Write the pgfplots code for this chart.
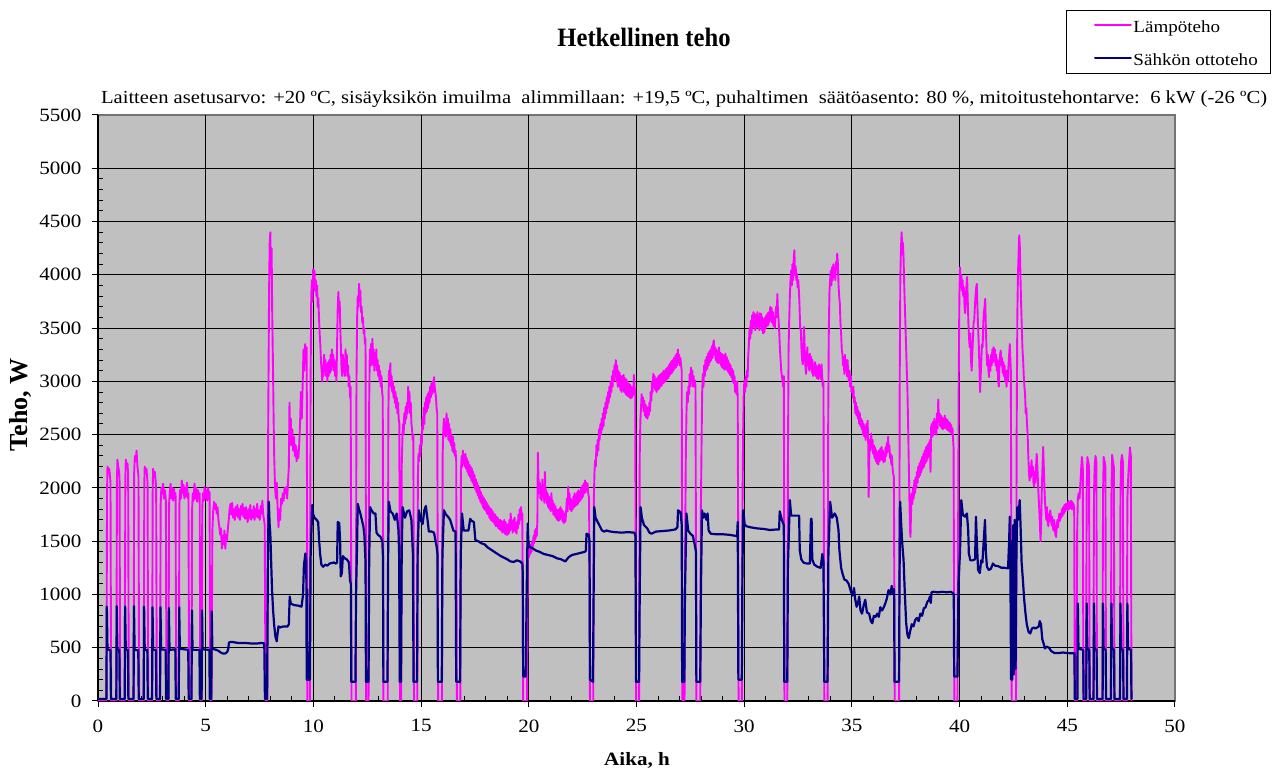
\documentclass[border=0pt]{standalone}
\usepackage{fontspec}
\setmainfont{Liberation Serif}[FakeStretch=1.12]
\newfontfamily\titlefont{Liberation Serif}[FakeStretch=0.93]
\newfontfamily\plainfont{Liberation Serif}
\usepackage{pgfplots}
\pgfplotsset{compat=1.18}
\definecolor{plotgray}{RGB}{192,192,192}
\definecolor{lampo}{RGB}{255,0,255}
\definecolor{sahko}{RGB}{0,0,128}

\begin{document}
\begin{tikzpicture}
\path[use as bounding box] (0bp,0bp) rectangle (1272bp,774bp);
\begin{axis}[
  at={(98bp,73bp)}, anchor=south west,
  width=1077bp, height=586bp, scale only axis,
  xmin=0, xmax=50, ymin=0, ymax=5500,
  xtick={0,5,...,45}, ytick={0,500,...,5000},
  extra x ticks={50}, extra y ticks={5500},
  extra tick style={grid=none},
  minor x tick num=4, minor y tick num=4,
  axis x line*=bottom, axis y line*=left,
  axis line style={-, black, line width=1.2bp},
  xtick pos=bottom, ytick pos=left,
  tick align=outside,
  major tick length=6bp, minor tick length=-5bp,
  tick style={black, line width=1bp},
  grid=major,
  major grid style={black, line width=1bp},
  axis background/.style={fill=plotgray, draw=black!55, line width=1.2bp},
  tick label style={font=\fontsize{18.8bp}{20bp}\selectfont},
  xticklabel style={yshift=-9bp},
  yticklabel style={xshift=-7bp},
  /pgf/number format/1000 sep={},
  /pgf/number format/assume math mode=true,
  legend style={at={(1.0882,1.1792)}, anchor=north east, draw=black,
    fill=white, inner xsep=11bp, inner ysep=7bp,
    font=\fontsize{17bp}{19bp}\selectfont, row sep=17bp,
    nodes={inner xsep=1bp, inner ysep=0bp, text height=15bp, text depth=1bp}},
  legend cell align=left,
  legend image code/.code={%
    \draw[white, line width=0.1bp] (-18bp,0bp) -- (-0.5bp,0bp);
    \fill[#1] (0bp,-0.1bp) rectangle (36bp,0.1bp);},
  every axis plot/.append style={line join=round},
]
% Lämpöteho (heat output), W
\addplot[lampo, line width=1.9bp] coordinates {
(0,0) (0.39,0) (0.42,1950) (0.44,2200) (0.48,2150) (0.52,2180) (0.56,2100) (0.58,2050) (0.61,0)
(0.85,0) (0.88,2050) (0.9,2265) (0.94,2200) (0.98,2150) (1.00,2100) (1.03,0)
(1.24,0) (1.27,2100) (1.29,2265) (1.33,2200) (1.37,2230) (1.40,2120) (1.43,0)
(1.65,0) (1.68,2150) (1.71,2300) (1.75,2250) (1.79,2350) (1.83,2200) (1.86,2150) (1.88,2100) (1.91,0)
(2.12,0) (2.15,2050) (2.17,2200) (2.21,2150) (2.25,2180) (2.28,2100) (2.30,2050) (2.33,0)
(2.51,0) (2.54,2000) (2.56,2180) (2.60,2100) (2.64,2150) (2.67,2080) (2.70,2000) (2.73,0)
(2.88,0) (2.91,1850) (2.94,2000) (2.98,1950) (3.02,2040) (3.06,1900) (3.10,1980) (3.15,1880) (3.18,0)
(3.27,0) (3.30,1850) (3.33,1950) (3.37,2040) (3.41,1900) (3.45,2000) (3.49,1880) (3.53,1990) (3.57,1900) (3.60,1950) (3.63,0)
(3.75,0) (3.78,1850) (3.81,1980) (3.85,1900) (3.89,2070) (3.93,1950) (3.97,2030) (4.01,1900) (4.05,2000) (4.09,1920) (4.13,2050) (4.17,1900) (4.20,1950) (4.23,0)
(4.34,0) (4.37,1800) (4.40,1950) (4.44,1880) (4.48,2040) (4.52,1900) (4.56,2000) (4.60,1870) (4.64,1980) (4.68,1900) (4.72,1950) (4.75,0)
(4.81,0) (4.84,1800) (4.87,1950) (4.91,1880) (4.95,2010) (4.99,1900) (5.03,1980) (5.07,1880) (5.11,2000) (5.15,1920) (5.18,1960) (5.21,0)
(5.27,0) (5.31,1600) (5.35,1790) (5.39,1870) (5.43,1800) (5.47,1850) (5.51,1760) (5.55,1820) (5.59,1700) (5.63,1640) (5.67,1560) (5.71,1620) (5.75,1430) (5.79,1550) (5.83,1470) (5.87,1600) (5.91,1430) (5.95,1560) (5.99,1510) (6.03,1620) (6.07,1700) (6.11,1800) (6.15,1850) (6.19,1750) (6.23,1860) (6.27,1720) (6.31,1800) (6.35,1700) (6.39,1820) (6.43,1740) (6.47,1840) (6.51,1720) (6.55,1800) (6.59,1700) (6.63,1830) (6.67,1750) (6.71,1850) (6.75,1730) (6.79,1810) (6.83,1710) (6.87,1820) (6.91,1740) (6.95,1680) (6.99,1800) (7.03,1720) (7.07,1840) (7.11,1700) (7.15,1790) (7.19,1720) (7.23,1830) (7.27,1700) (7.31,1800) (7.35,1730) (7.39,1850) (7.43,1720) (7.47,1790) (7.51,1700) (7.55,1830) (7.59,1760) (7.63,1880) (7.67,1750) (7.71,1700) (7.74,1650) (7.78,0) (7.86,0)
(7.90,2500) (7.94,3800) (7.97,4300) (8.00,4400) (8.03,4000) (8.06,4250) (8.09,3600) (8.12,3200) (8.15,2700) (8.18,2300) (8.22,2000) (8.26,1900) (8.30,2050) (8.34,1800) (8.38,1630) (8.42,1800) (8.46,1700) (8.50,1900) (8.54,1850) (8.58,1950) (8.62,1880) (8.66,2000) (8.70,1950) (8.74,2010) (8.78,1900) (8.82,2050) (8.86,2200) (8.89,2800) (8.92,2500) (8.95,2650) (8.98,2400) (9.02,2550) (9.06,2350) (9.10,2480) (9.14,2300) (9.18,2400) (9.22,2250) (9.26,2350) (9.30,2280) (9.34,2400) (9.38,2600) (9.42,2900) (9.46,2650) (9.50,2950) (9.54,3300) (9.58,3100) (9.62,3350) (9.66,3200) (9.69,3320) (9.72,0) (9.84,0)
(9.87,3000) (9.90,3800) (9.93,3950) (9.96,3750) (9.99,4050) (10.02,3900) (10.05,4040) (10.08,3850) (10.11,3950) (10.14,3800) (10.17,3900) (10.20,3700) (10.23,3780) (10.26,3600) (10.29,3450) (10.32,3350) (10.35,3200) (10.38,3100) (10.41,3000) (10.44,3150) (10.47,3050) (10.50,3250) (10.53,3100) (10.56,3200) (10.59,3050) (10.62,3150) (10.65,3000) (10.68,3180) (10.71,3050) (10.74,3200) (10.77,3080) (10.80,3250) (10.83,3100) (10.86,3300) (10.89,3150) (10.92,3250) (10.95,3100) (10.98,3200) (11.01,3050) (11.04,3150) (11.07,3000) (11.10,3350) (11.13,3700) (11.16,3840) (11.19,3650) (11.22,3750) (11.25,3500) (11.28,3300) (11.31,3100) (11.34,3050) (11.37,3250) (11.40,3100) (11.43,3200) (11.46,3050) (11.49,3300) (11.52,3100) (11.55,3250) (11.58,3050) (11.61,3150) (11.64,2950) (11.67,3050) (11.70,2850) (11.73,2950) (11.77,0) (11.97,0)
(12.00,3000) (12.03,3600) (12.06,3800) (12.09,3700) (12.12,3915) (12.15,3800) (12.18,3850) (12.21,3650) (12.24,3700) (12.27,3550) (12.30,3600) (12.33,3450) (12.36,3500) (12.39,3350) (12.42,3400) (12.45,0) (12.56,0)
(12.59,2800) (12.62,3300) (12.65,3200) (12.68,3350) (12.71,3150) (12.74,3400) (12.77,3200) (12.80,3300) (12.83,3100) (12.86,3250) (12.89,3150) (12.92,3300) (12.95,3100) (12.98,3200) (13.01,3050) (13.04,3150) (13.07,3000) (13.10,3100) (13.13,2950) (13.16,3050) (13.19,2900) (13.22,2850) (13.25,0) (13.45,0)
(13.48,2700) (13.51,3100) (13.54,3000) (13.57,3170) (13.60,2950) (13.63,3050) (13.66,2900) (13.69,3000) (13.72,2850) (13.75,2950) (13.78,2800) (13.81,2900) (13.84,2750) (13.87,2850) (13.90,2700) (13.93,2800) (13.96,2650) (13.99,2600) (14.02,0) (14.07,0)
(14.10,2200) (14.13,2450) (14.16,2600) (14.19,2500) (14.22,2700) (14.25,2600) (14.28,2760) (14.31,2650) (14.34,2800) (14.37,2700) (14.40,2950) (14.43,2800) (14.46,2900) (14.49,2700) (14.52,2800) (14.55,2600) (14.58,2550) (14.61,2450) (14.64,2500) (14.67,0) (14.82,0)
(14.85,2100) (14.88,2320) (14.91,2250) (14.94,2400) (14.97,2300) (15.00,2500) (15.03,2400) (15.06,2650) (15.09,2550) (15.12,2750) (15.15,2600) (15.18,2800) (15.21,2700) (15.24,2850) (15.27,2720) (15.30,2880) (15.33,2750) (15.36,2900) (15.39,2800) (15.42,2950) (15.45,2850) (15.48,2980) (15.51,2880) (15.54,3000) (15.57,2900) (15.60,3040) (15.63,2950) (15.66,2900) (15.69,2850) (15.72,2750) (15.75,2700) (15.79,0) (15.97,0)
(16.00,2300) (16.03,2550) (16.06,2650) (16.09,2500) (16.12,2600) (16.15,2480) (16.18,2700) (16.21,2520) (16.24,2650) (16.27,2450) (16.30,2600) (16.33,2430) (16.36,2550) (16.39,2400) (16.42,2500) (16.45,2350) (16.48,2480) (16.51,2330) (16.54,2420) (16.57,2300) (16.60,2350) (16.63,2250) (16.66,0) (16.82,0)
(16.85,2150) (16.88,2300) (16.91,2200) (16.94,2350) (16.97,2250) (17.00,2300) (17.03,2200) (17.06,2320) (17.09,2180) (17.12,2280) (17.15,2150) (17.18,2250) (17.21,2120) (17.24,2220) (17.27,2100) (17.30,2200) (17.33,2070) (17.36,2180) (17.39,2050) (17.42,2150) (17.45,2020) (17.48,2120) (17.51,1990) (17.54,2080) (17.57,1960) (17.60,2050) (17.63,1930) (17.66,2020) (17.69,1900) (17.72,1990) (17.75,1870) (17.78,1960) (17.81,1850) (17.84,1930) (17.87,1820) (17.90,1910) (17.93,1800) (17.96,1890) (17.99,1790) (18.02,1870) (18.05,1760) (18.08,1850) (18.11,1750) (18.14,1830) (18.17,1720) (18.20,1810) (18.23,1700) (18.26,1800) (18.29,1690) (18.32,1780) (18.35,1680) (18.38,1760) (18.41,1660) (18.44,1750) (18.47,1640) (18.50,1730) (18.53,1640) (18.56,1720) (18.59,1620) (18.62,1700) (18.65,1610) (18.68,1700) (18.71,1600) (18.74,1690) (18.77,1580) (18.80,1680) (18.83,1590) (18.86,1700) (18.89,1570) (18.92,1680) (18.95,1560) (18.98,1650) (19.01,1560) (19.04,1660) (19.07,1570) (19.10,1700) (19.13,1600) (19.16,1760) (19.19,1620) (19.22,1690) (19.25,1580) (19.28,1700) (19.31,1600) (19.34,1720) (19.37,1590) (19.40,1650) (19.43,1570) (19.46,1680) (19.49,1620) (19.52,1750) (19.55,1660) (19.58,1800) (19.61,1700) (19.64,1820) (19.67,1740) (19.70,1760) (19.74,0) (19.92,0)
(19.95,1300) (19.98,1420) (20.01,1350) (20.04,1450) (20.07,1380) (20.10,1470) (20.13,1400) (20.16,1500) (20.19,1450) (20.22,1550) (20.25,1480) (20.28,1600) (20.31,1520) (20.34,1620) (20.37,1550) (20.40,1700) (20.42,2330) (20.45,2100) (20.48,1950) (20.51,2050) (20.54,1900) (20.57,2000) (20.60,1880) (20.63,2080) (20.66,1920) (20.69,2000) (20.72,1860) (20.75,2150) (20.78,1900) (20.81,1980) (20.84,1850) (20.87,1950) (20.90,1820) (20.93,1920) (20.96,1800) (20.99,1900) (21.02,1780) (21.05,1950) (21.08,1800) (21.11,1880) (21.14,1750) (21.17,1850) (21.20,1740) (21.23,1830) (21.26,1720) (21.29,1800) (21.32,1700) (21.35,1790) (21.38,1690) (21.41,1800) (21.44,1700) (21.47,1820) (21.50,1720) (21.53,1800) (21.56,1690) (21.59,1780) (21.62,1670) (21.65,1760) (21.68,1680) (21.71,1700) (21.74,1800) (21.77,1900) (21.80,1780) (21.83,2010) (21.86,1850) (21.89,1950) (21.92,1800) (21.95,1900) (21.98,1780) (22.01,1880) (22.04,1800) (22.07,1920) (22.10,1820) (22.13,1950) (22.16,1830) (22.19,1930) (22.22,1840) (22.25,1960) (22.28,1850) (22.31,1980) (22.34,1870) (22.37,1960) (22.40,1880) (22.43,2000) (22.46,1900) (22.49,2020) (22.52,1920) (22.55,2040) (22.58,1950) (22.61,2070) (22.64,1960) (22.67,2050) (22.70,1980) (22.73,2040) (22.76,1950) (22.80,1900) (22.84,0) (22.99,0)
(23.02,1900) (23.05,2150) (23.08,2260) (23.11,2200) (23.14,2400) (23.17,2300) (23.20,2450) (23.23,2350) (23.26,2550) (23.29,2450) (23.32,2600) (23.35,2500) (23.38,2650) (23.41,2550) (23.44,2700) (23.47,2580) (23.50,2750) (23.53,2650) (23.56,2800) (23.59,2700) (23.62,2850) (23.65,2750) (23.68,2900) (23.71,2800) (23.74,2950) (23.77,2850) (23.80,3000) (23.83,2900) (23.86,3050) (23.89,2950) (23.92,3100) (23.95,3000) (23.98,3150) (24.01,3050) (24.04,3200) (24.07,3000) (24.10,3150) (24.13,2950) (24.16,3100) (24.19,2950) (24.22,3080) (24.25,2920) (24.28,3050) (24.31,2900) (24.34,3050) (24.37,2920) (24.40,3060) (24.43,2900) (24.46,3030) (24.49,2880) (24.52,3020) (24.55,2870) (24.58,3000) (24.61,2860) (24.64,2980) (24.67,2850) (24.70,2970) (24.73,2840) (24.76,2950) (24.79,2850) (24.82,2930) (24.85,2870) (24.88,3060) (24.91,2950) (24.94,2900) (24.98,0) (25.12,0)
(25.15,2300) (25.18,2630) (25.21,2750) (25.24,2880) (25.27,2780) (25.30,2850) (25.33,2720) (25.36,2820) (25.39,2680) (25.42,2780) (25.45,2660) (25.48,2760) (25.51,2650) (25.54,2750) (25.57,2680) (25.60,2800) (25.63,2720) (25.66,2900) (25.69,2820) (25.72,3000) (25.75,2900) (25.78,3070) (25.81,2950) (25.84,3050) (25.87,2920) (25.90,3020) (25.93,2900) (25.96,3030) (25.99,2920) (26.02,3050) (26.05,2930) (26.08,3060) (26.11,2950) (26.14,3070) (26.17,2960) (26.20,3080) (26.23,2980) (26.26,3100) (26.29,2990) (26.32,3100) (26.35,3000) (26.38,3120) (26.41,3020) (26.44,3130) (26.47,3030) (26.50,3150) (26.53,3050) (26.56,3170) (26.59,3070) (26.62,3190) (26.65,3080) (26.68,3200) (26.71,3100) (26.74,3220) (26.77,3120) (26.80,3240) (26.83,3130) (26.86,3260) (26.89,3150) (26.92,3300) (26.95,3180) (26.98,3250) (27.01,3150) (27.04,3220) (27.07,3150) (27.10,3100) (27.13,0) (27.23,0)
(27.26,1500) (27.29,2300) (27.32,2700) (27.35,2900) (27.38,2800) (27.41,2950) (27.44,2880) (27.47,3070) (27.50,2950) (27.53,3130) (27.56,3000) (27.59,3100) (27.62,2950) (27.65,3050) (27.68,2950) (27.71,3010) (27.74,2950) (27.78,0) (27.96,0)
(27.99,1800) (28.02,2400) (28.05,2900) (28.08,3070) (28.11,2950) (28.14,3150) (28.17,3050) (28.20,3200) (28.23,3100) (28.26,3230) (28.29,3120) (28.32,3260) (28.35,3150) (28.38,3280) (28.41,3180) (28.44,3300) (28.47,3200) (28.50,3330) (28.53,3220) (28.56,3350) (28.59,3385) (28.62,3250) (28.65,3320) (28.68,3200) (28.71,3300) (28.74,3180) (28.77,3280) (28.80,3170) (28.83,3320) (28.86,3180) (28.89,3270) (28.92,3150) (28.95,3260) (28.98,3130) (29.01,3250) (29.04,3120) (29.07,3240) (29.10,3110) (29.13,3260) (29.16,3120) (29.19,3230) (29.22,3100) (29.25,3200) (29.28,3080) (29.31,3170) (29.34,3060) (29.37,3150) (29.40,3040) (29.43,3120) (29.46,3000) (29.49,3100) (29.52,2980) (29.55,3050) (29.58,2900) (29.61,2950) (29.64,2880) (29.67,3000) (29.70,2850) (29.74,0) (29.89,0)
(29.92,1800) (29.95,2500) (29.98,2900) (30.01,3010) (30.04,2900) (30.07,3050) (30.10,2950) (30.13,3100) (30.16,3040) (30.19,3250) (30.22,3350) (30.25,3500) (30.28,3400) (30.31,3570) (30.34,3450) (30.37,3620) (30.40,3500) (30.43,3650) (30.46,3520) (30.49,3635) (30.52,3480) (30.55,3620) (30.58,3500) (30.61,3650) (30.64,3520) (30.67,3600) (30.70,3480) (30.73,3640) (30.76,3520) (30.79,3635) (30.82,3480) (30.85,3600) (30.88,3450) (30.91,3580) (30.94,3460) (30.97,3600) (31.00,3500) (31.03,3620) (31.06,3520) (31.09,3640) (31.12,3530) (31.15,3650) (31.18,3560) (31.21,3700) (31.24,3580) (31.27,3690) (31.30,3550) (31.33,3650) (31.36,3520) (31.39,3600) (31.42,3500) (31.45,3620) (31.48,3700) (31.51,3600) (31.54,3820) (31.57,3650) (31.60,3570) (31.63,3450) (31.66,3300) (31.69,3200) (31.72,3100) (31.75,3050) (31.78,3010) (31.81,2950) (31.84,3050) (31.87,0) (32.00,0)
(32.03,2200) (32.06,3300) (32.09,3570) (32.12,3800) (32.15,3950) (32.18,4040) (32.21,3900) (32.24,4100) (32.27,3950) (32.30,4150) (32.33,4230) (32.36,4000) (32.39,4080) (32.42,3950) (32.45,4010) (32.48,3880) (32.51,3950) (32.54,3850) (32.57,3700) (32.60,3500) (32.63,3480) (32.66,3300) (32.69,3200) (32.72,3160) (32.75,3350) (32.78,3510) (32.81,3300) (32.84,3150) (32.87,3070) (32.90,3200) (32.93,3320) (32.96,3150) (32.99,3250) (33.02,3100) (33.05,3260) (33.08,3120) (33.11,3230) (33.14,3080) (33.17,3200) (33.20,3050) (33.23,3150) (33.26,3070) (33.29,3180) (33.32,3050) (33.35,3150) (33.38,3030) (33.41,3130) (33.44,3020) (33.47,3160) (33.50,3050) (33.53,3140) (33.56,3020) (33.59,3160) (33.62,3050) (33.65,2950) (33.68,3000) (33.72,0) (33.87,0)
(33.90,2600) (33.93,3500) (33.96,3850) (33.99,3950) (34.02,4040) (34.05,3900) (34.08,4070) (34.11,3950) (34.14,4100) (34.17,3980) (34.20,4070) (34.23,3950) (34.26,4120) (34.29,4050) (34.32,4200) (34.35,4100) (34.38,3900) (34.41,3800) (34.44,3730) (34.47,3550) (34.50,3450) (34.53,3300) (34.56,3260) (34.59,3150) (34.62,3200) (34.65,3070) (34.68,3250) (34.71,3100) (34.74,3200) (34.77,3050) (34.80,3200) (34.83,3050) (34.86,3000) (34.89,3100) (34.92,2950) (34.95,3050) (34.98,2900) (35.01,2950) (35.04,2850) (35.07,2950) (35.10,2800) (35.13,2850) (35.16,2700) (35.19,2800) (35.22,2680) (35.25,2760) (35.28,2650) (35.31,2720) (35.34,2600) (35.37,2700) (35.40,2580) (35.43,2650) (35.46,2550) (35.49,2630) (35.52,2500) (35.55,2600) (35.58,2480) (35.61,2570) (35.64,2450) (35.67,2600) (35.70,2480) (35.73,2630) (35.76,2400) (35.78,1915) (35.81,2300) (35.84,2450) (35.87,2350) (35.90,2510) (35.93,2380) (35.96,2450) (35.99,2320) (36.02,2400) (36.05,2280) (36.08,2380) (36.11,2250) (36.14,2350) (36.17,2230) (36.20,2330) (36.23,2220) (36.26,2350) (36.29,2250) (36.32,2370) (36.35,2270) (36.38,2385) (36.41,2260) (36.44,2350) (36.47,2240) (36.50,2320) (36.53,2250) (36.56,2380) (36.59,2300) (36.62,2420) (36.65,2330) (36.68,2480) (36.71,2350) (36.74,2400) (36.77,2280) (36.80,2320) (36.83,2220) (36.86,2300) (36.89,2180) (36.92,2130) (36.95,2100) (36.99,0) (37.19,0)
(37.22,3000) (37.25,4000) (37.28,4250) (37.31,4400) (37.34,4200) (37.37,4300) (37.40,4150) (37.43,3900) (37.46,3700) (37.49,3510) (37.52,3300) (37.55,3100) (37.58,2900) (37.61,2600) (37.64,2250) (37.67,1900) (37.70,1600) (37.72,1540) (37.75,1800) (37.78,1950) (37.81,1850) (37.84,2000) (37.87,1900) (37.90,2070) (37.93,1950) (37.96,2100) (37.99,2000) (38.02,2150) (38.05,2050) (38.08,2200) (38.11,2100) (38.14,2230) (38.17,2120) (38.20,2260) (38.23,2150) (38.26,2290) (38.29,2180) (38.32,2320) (38.35,2200) (38.38,2350) (38.41,2230) (38.44,2380) (38.47,2250) (38.50,2400) (38.53,2280) (38.56,2420) (38.59,2300) (38.62,2450) (38.65,2150) (38.68,2570) (38.71,2600) (38.74,2480) (38.77,2620) (38.80,2500) (38.83,2650) (38.86,2520) (38.89,2620) (38.92,2500) (38.95,2700) (38.98,2560) (39.01,2830) (39.04,2620) (39.07,2700) (39.10,2580) (39.13,2680) (39.16,2560) (39.19,2660) (39.22,2550) (39.25,2650) (39.28,2560) (39.31,2680) (39.34,2570) (39.37,2650) (39.40,2550) (39.43,2640) (39.46,2540) (39.49,2620) (39.52,2530) (39.55,2610) (39.58,2520) (39.61,2590) (39.64,2510) (39.67,2560) (39.70,2450) (39.72,2380) (39.76,0) (39.90,0)
(39.93,1500) (39.96,3000) (39.99,3800) (40.02,4070) (40.05,3900) (40.08,4000) (40.11,3850) (40.14,3950) (40.17,3800) (40.20,3880) (40.23,3700) (40.26,3640) (40.29,3780) (40.32,3900) (40.35,3980) (40.38,3750) (40.41,3550) (40.44,3400) (40.47,3320) (40.50,3450) (40.53,3200) (40.56,3100) (40.59,3250) (40.62,3400) (40.65,3550) (40.68,3570) (40.71,3700) (40.74,3800) (40.77,3880) (40.80,3915) (40.83,3700) (40.86,3500) (40.89,3350) (40.92,3150) (40.95,2900) (40.98,3050) (41.01,3200) (41.04,3350) (41.07,3320) (41.10,3550) (41.13,3650) (41.16,3700) (41.19,3775) (41.22,3500) (41.25,3300) (41.28,3150) (41.31,3250) (41.34,3100) (41.37,3040) (41.40,3200) (41.43,3100) (41.46,3250) (41.49,3150) (41.52,3300) (41.55,3180) (41.58,3320) (41.61,3200) (41.64,3300) (41.67,3150) (41.70,3250) (41.73,3100) (41.76,3200) (41.79,3000) (41.82,2950) (41.85,3150) (41.88,3250) (41.91,3290) (41.94,3150) (41.97,3220) (42.00,3080) (42.03,3180) (42.06,3050) (42.09,3150) (42.12,3000) (42.15,3100) (42.18,2950) (42.21,3100) (42.24,3000) (42.27,3150) (42.30,3250) (42.33,3350) (42.36,3200) (42.38,3100) (42.42,0) (42.62,0)
(42.65,2500) (42.68,3600) (42.71,4000) (42.74,4200) (42.77,4370) (42.80,4250) (42.83,3950) (42.86,3700) (42.89,3500) (42.92,3300) (42.95,3200) (42.98,3050) (43.01,2950) (43.04,2880) (43.07,2700) (43.10,2750) (43.13,2600) (43.16,2500) (43.19,2300) (43.22,2150) (43.25,2070) (43.28,2200) (43.31,2100) (43.34,2260) (43.37,2150) (43.40,2200) (43.43,2050) (43.46,2010) (43.49,2150) (43.52,2050) (43.55,2200) (43.58,2320) (43.61,2200) (43.64,2050) (43.67,1915) (43.70,1800) (43.73,1650) (43.76,1500) (43.79,1700) (43.82,2000) (43.85,2200) (43.88,2385) (43.91,2200) (43.94,2000) (43.97,1850) (44.00,1760) (44.03,1700) (44.06,1820) (44.09,1680) (44.12,1640) (44.15,1750) (44.18,1690) (44.21,1790) (44.24,1720) (44.27,1650) (44.30,1730) (44.33,1640) (44.36,1600) (44.39,1700) (44.42,1620) (44.45,1560) (44.48,1540) (44.51,1640) (44.54,1700) (44.57,1630) (44.60,1700) (44.63,1760) (44.66,1690) (44.69,1760) (44.72,1720) (44.75,1800) (44.78,1740) (44.81,1820) (44.84,1760) (44.87,1840) (44.90,1780) (44.93,1850) (44.96,1800) (44.99,1850) (45.02,1790) (45.05,1880) (45.08,1800) (45.11,1860) (45.14,1820) (45.17,1880) (45.20,1800) (45.23,1870) (45.26,1800) (45.29,1850) (45.32,1800) (45.35,0)
(45.43,0) (45.46,1600) (45.49,1900) (45.53,1950) (45.57,1900) (45.61,2050) (45.65,2200) (45.68,2290) (45.72,2200) (45.75,0)
(45.87,0) (45.90,1950) (45.93,2290) (45.97,2250) (46.01,2200) (46.04,0)
(46.21,0) (46.24,1950) (46.27,2200) (46.31,2300) (46.35,2250) (46.38,0)
(46.63,0) (46.66,1950) (46.69,2290) (46.73,2250) (46.77,2200) (46.80,0)
(47.02,0) (47.05,1950) (47.08,2310) (47.12,2250) (47.16,2200) (47.19,0)
(47.44,0) (47.47,1950) (47.50,2250) (47.54,2310) (47.58,2250) (47.61,0)
(47.76,0) (47.79,1900) (47.83,2100) (47.87,2250) (47.91,2380) (47.95,2300) (47.98,0)
};
\addlegendentry{Lämpöteho}
% Sähkön ottoteho (electric input power), W
\addplot[sahko, line width=2.2bp] coordinates {
(0,20) (0.39,20) (0.41,885) (0.44,490) (0.50,480) (0.58,480) (0.60,20)
(0.85,20) (0.87,890) (0.90,485) (0.99,480) (1.01,20)
(1.24,20) (1.26,885) (1.29,480) (1.39,480) (1.41,20)
(1.65,20) (1.67,890) (1.70,480) (1.87,475) (1.89,20)
(2.12,20) (2.14,885) (2.17,480) (2.29,480) (2.31,20)
(2.51,20) (2.53,880) (2.56,480) (2.69,480) (2.71,20)
(2.88,20) (2.90,880) (2.93,485) (3.14,480) (3.16,20)
(3.27,20) (3.29,875) (3.32,480) (3.59,485) (3.61,20)
(3.75,20) (3.77,880) (3.80,490) (4.19,480) (4.21,20)
(4.34,20) (4.36,850) (4.39,480) (4.71,480) (4.73,20)
(4.81,20) (4.83,850) (4.86,485) (5.17,480) (5.19,20)
(5.26,20) (5.28,840) (5.31,490) (5.4,485) (5.5,480) (5.6,470) (5.7,455) (5.8,445) (5.9,445) (6.0,460) (6.05,490) (6.08,550) (6.2,555) (6.5,545) (6.8,545) (7.1,540) (7.4,540) (7.6,545) (7.72,540) (7.75,20) (7.85,20)
(7.89,1400) (7.93,1870) (7.97,1650) (8.00,1570) (8.04,1300) (8.08,1040) (8.13,850) (8.18,710) (8.24,600) (8.30,560) (8.33,620) (8.38,700) (8.45,690) (8.6,700) (8.8,700) (8.86,720) (8.90,980) (8.95,915) (9.1,900) (9.3,895) (9.45,885) (9.52,1000) (9.56,1275) (9.63,1385) (9.67,1300) (9.69,200) (9.71,1050) (9.73,200) (9.84,200)
(9.87,1350) (9.91,1600) (9.95,1840) (9.99,1750) (10.05,1720) (10.15,1700) (10.22,1680) (10.27,1500) (10.31,1385) (10.37,1280) (10.45,1260) (10.55,1280) (10.65,1270) (10.75,1290) (10.85,1295) (10.95,1300) (11.05,1290) (11.10,1300) (11.13,1680) (11.2,1670) (11.24,1500) (11.27,1170) (11.32,1200) (11.37,1360) (11.45,1340) (11.55,1330) (11.65,1300) (11.70,1130) (11.74,1100) (11.76,180) (11.95,180)
(11.98,1000) (12.03,1500) (12.06,1850) (12.12,1800) (12.18,1760) (12.25,1700) (12.32,1640) (12.37,1550) (12.42,1300) (12.44,180) (12.56,180)
(12.59,1320) (12.63,1820) (12.70,1790) (12.80,1760) (12.88,1760) (12.93,1580) (13.0,1560) (13.12,1540) (13.2,1500) (13.23,1350) (13.25,180) (13.44,180)
(13.47,1380) (13.50,1870) (13.58,1780) (13.68,1760) (13.78,1700) (13.87,1760) (13.95,1600) (13.98,1380) (14.01,180) (14.07,180)
(14.10,1400) (14.14,1820) (14.25,1720) (14.35,1780) (14.45,1790) (14.55,1700) (14.62,1380) (14.65,180) (14.81,180)
(14.84,1380) (14.90,1790) (14.98,1700) (15.07,1660) (15.15,1790) (15.22,1830) (15.30,1700) (15.36,1590) (15.5,1590) (15.6,1580) (15.72,1450) (15.76,1380) (15.78,180) (15.96,180)
(15.99,1380) (16.06,1790) (16.15,1750) (16.25,1730) (16.35,1700) (16.5,1600) (16.6,1590) (16.63,180) (16.81,180)
(16.84,1380) (16.90,1760) (16.98,1600) (17.10,1600) (17.20,1600) (17.28,1710) (17.35,1690) (17.45,1680) (17.52,1510) (17.65,1500) (17.8,1480) (17.95,1470) (18.1,1440) (18.25,1420) (18.4,1400) (18.55,1380) (18.7,1360) (18.85,1345) (19.0,1330) (19.15,1310) (19.3,1305) (19.45,1320) (19.6,1310) (19.7,1290) (19.72,1200) (19.74,230) (19.86,230)
(19.90,1000) (19.95,1665) (19.98,1500) (20.02,1450) (20.1,1440) (20.2,1430) (20.35,1410) (20.5,1400) (20.7,1380) (20.9,1370) (21.1,1360) (21.3,1340) (21.5,1330) (21.7,1310) (21.85,1350) (22.0,1370) (22.2,1380) (22.4,1390) (22.6,1400) (22.65,1410) (22.68,1570) (22.78,1560) (22.82,1500) (22.84,200) (22.98,180)
(23.01,1000) (23.04,1820) (23.1,1720) (23.2,1680) (23.3,1640) (23.4,1600) (23.5,1590) (23.6,1600) (23.8,1590) (24.0,1585) (24.3,1580) (24.6,1585) (24.9,1580) (24.95,1550) (24.98,180) (25.12,180)
(25.15,1000) (25.19,1820) (25.25,1720) (25.35,1650) (25.5,1620) (25.6,1580) (25.7,1570) (25.9,1590) (26.2,1595) (26.5,1600) (26.8,1610) (26.9,1630) (26.93,1790) (27.05,1770) (27.10,1650) (27.12,180) (27.22,180)
(27.25,1000) (27.32,1760) (27.40,1600) (27.50,1570) (27.62,1550) (27.72,1450) (27.76,1400) (27.78,180) (27.96,180)
(27.99,1000) (28.04,1790) (28.10,1720) (28.16,1760) (28.25,1700) (28.30,1760) (28.35,1600) (28.45,1570) (28.7,1565) (29.0,1565) (29.3,1560) (29.6,1550) (29.67,1545) (29.70,1680) (29.73,200) (29.89,200)
(29.92,1270) (29.96,1790) (30.02,1660) (30.1,1640) (30.3,1630) (30.6,1620) (30.9,1615) (31.2,1605) (31.5,1610) (31.62,1610) (31.65,1780) (31.75,1700) (31.84,1650) (31.86,180) (32.00,180)
(32.03,1270) (32.12,1885) (32.18,1740) (32.30,1740) (32.45,1740) (32.55,1740) (32.58,1415) (32.65,1330) (32.75,1300) (32.90,1290) (33.05,1290) (33.10,1710) (33.13,1710) (33.16,1330) (33.25,1280) (33.40,1260) (33.55,1250) (33.63,1380) (33.68,1300) (33.72,180) (33.87,180)
(33.91,1380) (33.99,1870) (34.08,1720) (34.20,1760) (34.30,1720) (34.38,1600) (34.42,1415) (34.50,1250) (34.56,1200) (34.65,1140) (34.75,1130) (34.85,1100) (34.95,1030) (35.02,990) (35.10,1060) (35.15,960) (35.22,885) (35.28,920) (35.34,980) (35.40,850) (35.47,820) (35.55,900) (35.62,950) (35.70,830) (35.80,820) (35.88,750) (35.95,730) (36.02,800) (36.10,790) (36.18,820) (36.25,790) (36.32,880) (36.40,850) (36.48,880) (36.55,915) (36.62,960) (36.70,1040) (36.78,1000) (36.85,1080) (36.92,1000) (36.96,1050) (36.98,180) (37.19,180)
(37.21,1100) (37.24,1870) (37.28,1700) (37.33,1500) (37.40,1320) (37.46,1000) (37.52,730) (37.58,620) (37.64,590) (37.70,650) (37.78,720) (37.86,700) (37.94,760) (38.02,780) (38.10,750) (38.18,820) (38.26,800) (38.34,870) (38.42,880) (38.50,930) (38.58,950) (38.62,980) (38.66,920) (38.70,1020) (38.78,1025) (39.0,1020) (39.2,1025) (39.4,1020) (39.6,1025) (39.70,1010) (39.73,1000) (39.75,230) (39.90,230)
(39.95,1100) (40.02,1400) (40.08,1885) (40.15,1750) (40.25,1730) (40.34,1760) (40.40,1600) (40.43,1385) (40.5,1320) (40.6,1320) (40.72,1330) (40.76,1730) (40.80,1500) (40.86,1230) (40.94,1200) (41.00,1320) (41.06,1300) (41.12,1500) (41.18,1700) (41.22,1400) (41.27,1260) (41.35,1230) (41.45,1240) (41.55,1290) (41.65,1270) (41.80,1265) (41.95,1250) (42.10,1250) (42.25,1245) (42.30,1500) (42.33,1730) (42.36,1200) (42.39,200) (42.42,1500) (42.45,200) (42.49,1650) (42.52,250) (42.56,1700) (42.60,300) (42.64,1400) (42.68,1820) (42.72,1700) (42.76,1800) (42.79,1885) (42.83,1650) (42.88,1300) (42.94,1135) (43.00,950) (43.06,822) (43.12,720) (43.20,650) (43.28,634) (43.36,680) (43.44,690) (43.52,680) (43.60,690) (43.68,700) (43.72,750) (43.78,720) (43.84,580) (43.90,540) (43.96,494) (44.05,510) (44.15,500) (44.25,470) (44.40,450) (44.6,450) (44.8,455) (45.0,450) (45.2,448) (45.33,450) (45.35,20)
(45.47,20) (45.49,915) (45.52,490) (45.74,480) (45.76,20)
(45.88,20) (45.90,915) (45.93,490) (46.02,480) (46.04,20)
(46.22,20) (46.24,915) (46.27,490) (46.36,480) (46.38,20)
(46.64,20) (46.66,915) (46.69,490) (46.78,480) (46.80,20)
(47.03,20) (47.05,915) (47.08,490) (47.17,480) (47.19,20)
(47.45,20) (47.47,915) (47.50,490) (47.59,480) (47.61,20)
(47.77,20) (47.79,915) (47.82,490) (47.96,480) (47.98,20) (48.0,15)
};
\addlegendentry{Sähkön ottoteho\hspace{11bp}}
\end{axis}
% titles and axis labels
\node[anchor=base, font=\titlefont\bfseries\fontsize{26.5bp}{28bp}\selectfont] at (644bp,727bp) {Hetkellinen teho};
\node[anchor=base, font=\fontsize{18.4bp}{20bp}\selectfont] at (684bp,670bp)
  {Laitteen asetusarvo: +20 ºC, sisäyksikön imuilma\ \ alimmillaan: +19,5 ºC, puhaltimen\ \ säätöasento: 80 \%, mitoitustehontarve:\ \ 6 kW (-26 ºC)};
\node[anchor=center, font=\bfseries\fontsize{18.8bp}{20bp}\selectfont] at (637bp,14bp) {Aika, h};
\node[anchor=center, rotate=90, font=\plainfont\bfseries\fontsize{26bp}{28bp}\selectfont] at (20bp,369bp) {Teho, W};
\end{tikzpicture}
\end{document}
